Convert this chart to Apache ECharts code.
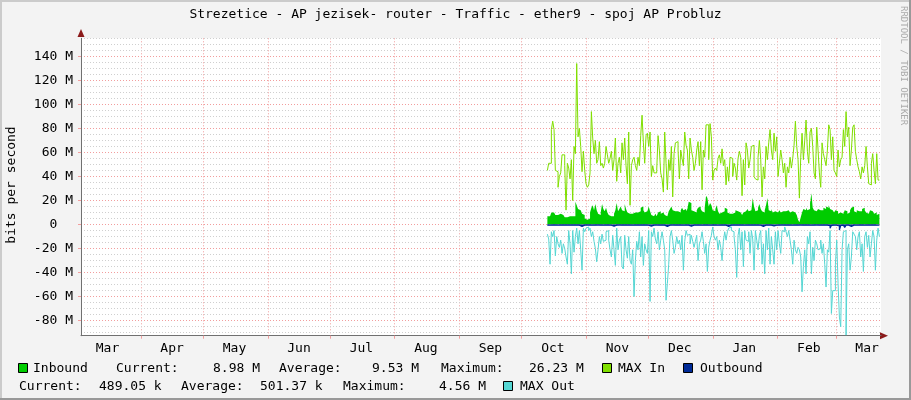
<!DOCTYPE html>
<html><head><meta charset="utf-8">
<script src="https://cdn.jsdelivr.net/npm/echarts@6/dist/echarts.min.js"></script>
<style>html,body{margin:0;padding:0;background:#f3f3f3}#c{width:911px;height:400px}</style>
</head><body><div id="c"></div>
<script>
const titleText = 'Strezetice - AP jezisek- router - Traffic - ether9 - spoj AP Probluz';
const yAxisTitle = 'bits per second';
const watermark = 'RRDTOOL / TOBI OETIKER';
const monthNames = ['Jan','Feb','Mar','Apr','May','Jun','Jul','Aug','Sep','Oct','Nov','Dec'];
// x axis range (UTC)
const axisStart = Date.UTC(2021, 2, 3, 6, 0);
const axisEnd = Date.UTC(2022, 2, 22, 16, 19);
// major grid at month starts, labels centred half a month later (rrdtool style)
const gridMonths = [[2021,3],[2021,4],[2021,5],[2021,6],[2021,7],[2021,8],[2021,9],[2021,10],[2021,11],[2022,0],[2022,1],[2022,2]];
const labelMonths = [[2021,2],[2021,3],[2021,4],[2021,5],[2021,6],[2021,7],[2021,8],[2021,9],[2021,10],[2021,11],[2022,0],[2022,1],[2022,2]];
const labelOffsetMs = 15 * 86400000;
// y axis (M bits/s)
const yMin = -92.5, yMax = 155;
const yMajorTicks = [-80,-60,-40,-20,0,20,40,60,80,100,120,140];
const yMinorStep = 5;
// samples
const sampleStart = Date.UTC(2021, 9, 13, 8, 38);
const sampleStepMs = 55362000;

const maxIn = [
45,51,51,79,86,79,45,44,31,40, 43,58,58,49,12,51,47,38,54,20,
65,59,134,73,80,65,44,61,45,34, 31,33,43,94,72,59,70,51,54,69,
49,51,47,51,65,58,51,55,61,45, 54,72,36,51,56,43,68,54,72,49,
34,77,16,49,54,56,49,45,56,49, 74,91,68,51,74,76,65,77,40,49,
43,43,45,74,62,43,38,27,77,51, 29,54,45,65,23,59,68,69,62,38,
62,55,49,77,66,62,38,72,62,56, 45,51,62,69,49,69,29,62,56,83,
83,54,84,73,37,45,47,
45,55,58,51,63,49,54,33,48,36, 56,55,40,51,47,37,55,61,56,24,
54,33,68,62,47,54,65,66,40,38, 37,56,70,54,23,48,38,65,54,68,
79,62,54,76,61,73,40,51,62,54, 43,51,31,48,43,56,47,55,66,86,
65,54,22,56,76,54,70,87,61,51, 77,80,65,43,38,81,62,43,31,68,
59,54,49,62,83,79,54,73,45,43, 40,62,48,54,56,79,65,94,73,81,
49,62,81,83,61,54,48,44,38,48, 43,49,65,48,34,33,51,59,45,34,
59,37,37];

const inbound = [
7,7,8,10,10,9,8,8,8,9, 8,8,7,6,6,7,7,6,7,6,
7,19,16,13,12,11,9,8,5,4, 4,5,10,14,16,12,17,12,9,8,
10,17,13,11,14,10,8,7,8,7, 9,12,18,11,13,15,12,11,17,13,
10,9,8,9,10,10,11,10,9,11, 14,15,12,10,11,12,15,11,8,7,
8,9,7,10,11,9,10,9,8,7, 8,11,13,15,12,11,12,11,12,10,
12,14,12,13,11,13,19,18,12,11, 12,10,12,14,15,13,11,10,14,24,
22,15,18,16,12,11,13,
16,11,9,10,10,11,14,13,10,9, 8,9,8,10,12,11,12,10,9,8,
10,11,12,13,11,12,13,22,15,11, 12,14,17,13,11,10,12,16,22,12,
11,13,10,11,12,10,11,12,10,11, 10,11,10,12,11,10,11,12,10,9,
8,4,2,6,10,13,12,14,12,13, 18,26,14,12,11,10,13,12,11,12,
14,13,15,14,16,13,12,11,10,12, 11,9,10,11,9,10,12,11,9,10,
12,14,15,11,10,12,11,10,11,13, 14,12,10,9,10,12,11,10,9,10,
8,9,9];

const maxOut = [
-8,-12,-33,-6,-10,-5,-26,-10,-16,-19, -13,-24,-16,-20,-27,-33,-5,-16,-41,-5,
-23,-10,-3,-16,-5,-21,-38,-3,-6,-3, -2,-5,-3,-10,-6,-14,-20,-31,-21,-10,
-16,-8,-14,-13,-6,-5,-13,-21,-27,-9, -21,-34,-3,-21,-13,-10,-35,-37,-9,-21,
-28,-10,-30,-33,-21,-60,-30,-14,-21,-6, -27,-10,-34,-16,-21,-24,-5,-64,-6,-10,
-3,-12,-16,-6,-21,-13,-6,-13,-21,-63, -49,-33,-10,-5,-13,-24,-19,-10,-16,-13,
-21,-9,-38,-14,-5,-9,-8,-16,-9,-14, -19,-14,-9,-30,-16,-13,-6,-14,-24,-16,
-39,-19,-13,-9,-2,-10,-13,
-10,-21,-13,-19,-30,-14,-6,-13,-6,-3, -2,-5,-6,-10,-21,-44,-9,-3,-21,-6,
-35,-5,-13,-14,-6,-24,-5,-12,-38,-5, -13,-21,-9,-5,-33,-16,-41,-5,-21,-3,
-33,-10,-21,-33,-6,-21,-5,-16,-24,-5, -6,-2,-6,-10,-5,-13,-21,-33,-13,-21,
-24,-19,-21,-27,-56,-35,-21,-41,-10,-16, -6,-41,-19,-30,-13,-16,-21,-20,-13,-24,
-16,-33,-52,-21,-23,-5,-74,-55,-55,-33, -13,-49,-77,-85,-21,-6,-5,-92,-21,-16,
-38,-27,-6,-8,-10,-21,-10,-6,-27,-16, -39,-10,-6,-19,-9,-27,-16,-5,-10,-38,
-13,-3,-10];

const outbound = [
-0.5,-0.6,-0.5,-0.5,-0.4,-0.5,-0.5,-0.6,-0.5,-0.5, -0.5,-0.5,-0.4,-0.5,-0.5,-0.5,-0.6,-0.5,-0.5,-0.5,
-0.5,-0.5,-0.6,-0.5,-0.5,-1.5,-0.6,-0.5,-0.5,-0.4, -0.5,-0.5,-0.5,-0.6,-0.5,-0.5,-0.5,-0.4,-0.5,-0.5,
-0.5,-0.6,-0.5,-0.5,-0.5,-0.5,-0.5,-0.6,-0.5,-1.4, -0.5,-0.5,-0.5,-0.4,-0.5,-0.5,-0.6,-0.5,-0.5,-0.5,
-0.5,-0.5,-0.5,-0.6,-0.5,-0.5,-0.4,-0.5,-0.5,-0.5, -0.6,-0.5,-0.5,-0.5,-0.5,-0.6,-0.5,-1.3,-0.5,-0.5,
-0.5,-0.4,-0.5,-0.5,-0.6,-0.5,-0.5,-0.5,-0.6,-1.6, -0.5,-0.5,-0.5,-0.4,-0.5,-0.5,-0.6,-0.5,-0.5,-0.5,
-0.5,-0.6,-0.5,-0.5,-0.5,-0.5,-0.6,-1.4,-0.5,-0.5, -0.5,-0.5,-0.4,-0.5,-0.5,-0.6,-0.5,-0.5,-0.5,-0.5,
-1.5,-0.6,-0.5,-0.5,-0.5,-0.5,-0.5,-0.6,-0.5,-0.5, -0.5,-0.5,-0.4,-0.5,-0.6,-1.5,-0.5,-0.5,-0.5,-0.5,
-0.6,-0.5,-0.5,-0.5,-0.4,-0.5,-0.5,-0.6,-0.5,-0.5, -0.5,-0.5,-0.6,-0.5,-0.5,-0.5,-0.4,-0.5,-0.5,-0.6,
-0.5,-1.5,-0.5,-0.5,-0.6,-0.5,-0.5,-0.5,-0.5,-1.2, -0.5,-0.6,-0.5,-0.5,-0.5,-0.4,-0.5,-0.5,-0.6,-0.5,
-0.5,-0.5,-0.5,-0.6,-0.5,-0.5,-1.5,-0.5,-0.5,-0.4, -0.5,-0.5,-0.6,-0.5,-0.5,-0.5,-0.5,-0.6,-0.5,-0.5,
-0.5,-0.4,-0.5,-0.5,-0.6,-0.5,-1.5,-0.5,-0.5,-0.5, -0.6,-0.9,-3.0,-0.7,-0.5,-0.5,-0.6,-0.5,-1.2,-4.56,
-0.8,-0.5,-0.6,-2.5,-0.5,-0.5,-0.5,-1.5,-0.5,-0.5, -0.5,-0.6,-0.5,-0.5,-0.4,-0.5,-0.5,-0.6,-0.5,-0.5,
-0.5,-0.5,-0.6,-0.5,-0.5,-0.5,-0.4,-0.5,-0.5,-0.49];

// legend (text from the graph's GPRINT lines)
const legendNames = ['Inbound','MAX In','Outbound','MAX Out'];
const legendColors = ['#00CC00','#80DF00','#002A97','#55D6D3'];
const inStats = ['Current:','8.98 M','Average:','9.53 M','Maximum:','26.23 M'];
const outStats = ['Current:','489.05 k','Average:','501.37 k','Maximum:','4.56 M'];

const FONT = 'DejaVu Sans Mono';
const toSeries = arr => arr.map((v, i) => [sampleStart + i * sampleStepMs, v]);
const gridTicks = gridMonths.map(([y, m]) => Date.UTC(y, m, 1));
const labelTicks = labelMonths.map(([y, m]) => Date.UTC(y, m, 1) + labelOffsetMs);
const yMinorTicks = [];
for (let v = -90; v <= yMax; v += yMinorStep) if (v % 20 !== 0) yMinorTicks.push(v);

const txt = (x, y, s, extra) => ({type:'text', x, y, silent:true,
  style: Object.assign({text:s, font:'13px ' + FONT, fill:'#000', align:'left', verticalAlign:'middle'}, extra || {})});
const box = (x, y, c) => ({type:'rect', silent:true, shape:{x:x+0.5, y:y+0.5, width:9, height:9}, style:{fill:c, stroke:'#000', lineWidth:1}});

const graphics = [
  {type:'rect', shape:{x:0,y:0,width:911,height:2}, style:{fill:'#cbcbcb'}, silent:true},
  {type:'rect', shape:{x:0,y:0,width:2,height:400}, style:{fill:'#cbcbcb'}, silent:true},
  {type:'rect', shape:{x:909,y:0,width:2,height:400}, style:{fill:'#999'}, silent:true},
  {type:'rect', shape:{x:0,y:398,width:911,height:2}, style:{fill:'#999'}, silent:true},
  txt(455.5, 15, titleText, {align:'center'}),
  {type:'text', x:12, y:185, rotation:Math.PI/2, silent:true,
   style:{text:yAxisTitle, font:'13px ' + FONT, fill:'#000', align:'center', verticalAlign:'middle'}},
  {type:'text', x:903.5, y:6, rotation:-Math.PI/2, silent:true,
   style:{text:watermark, font:'9px ' + FONT, fill:'#aaa', align:'left', verticalAlign:'middle'}},
  {type:'polygon', silent:true, shape:{points:[[81,29],[77.5,37],[84.5,37]]}, style:{fill:'#8b1a1a'}},
  {type:'polygon', silent:true, shape:{points:[[888,335.7],[880,332.2],[880,339.2]]}, style:{fill:'#8b1a1a'}},
  // legend row 1
  box(18, 363, legendColors[0]), txt(33, 368.5, legendNames[0]),
  txt(116, 368.5, inStats[0]), txt(213, 368.5, inStats[1]),
  txt(279, 368.5, inStats[2]), txt(372, 368.5, inStats[3]),
  txt(441, 368.5, inStats[4]), txt(529, 368.5, inStats[5]),
  box(602, 363, legendColors[1]), txt(618, 368.5, legendNames[1]),
  box(683, 363, legendColors[2]), txt(700, 368.5, legendNames[2]),
  // legend row 2
  txt(19, 386.5, outStats[0]), txt(99, 386.5, outStats[1]),
  txt(181, 386.5, outStats[2]), txt(260, 386.5, outStats[3]),
  txt(343, 386.5, outStats[4]), txt(439, 386.5, outStats[5]),
  box(503, 381, legendColors[3]), txt(520, 386.5, legendNames[3])
];

const chart = echarts.init(document.getElementById('c'), null, {renderer:'canvas'});
chart.setOption({
  animation:false,
  backgroundColor:'#f3f3f3',
  grid:{left:81, right:30, top:38.3, bottom:64.3, show:true, backgroundColor:'#ffffff', borderWidth:0},
  xAxis:{
    type:'value', min:axisStart, max:axisEnd, scale:true,
    axisLine:{show:true, onZero:false, lineStyle:{color:'#707070', width:1}},
    axisTick:{show:true, length:3, customValues:gridTicks, lineStyle:{color:'#f29d9d'}},
    axisLabel:{show:true, customValues:labelTicks, margin:6, color:'#000', fontFamily:FONT, fontSize:13,
      formatter: v => monthNames[new Date(v).getUTCMonth()]},
    splitLine:{show:true, lineStyle:{color:'#f29d9d', type:[1,2], width:1}}
  },
  yAxis:[{
    type:'value', min:yMin, max:yMax,
    axisLine:{show:true, lineStyle:{color:'#707070', width:1}},
    axisTick:{show:true, length:3, customValues:yMajorTicks, lineStyle:{color:'#f29d9d'}},
    axisLabel:{show:true, customValues:yMajorTicks, margin:8, color:'#000', fontFamily:FONT, fontSize:13,
      formatter: v => v === 0 ? '0  ' : v + ' M'},
    splitLine:{show:true, lineStyle:{color:'#f29d9d', type:[1,2], width:1}},
    z:3
  },{
    type:'value', min:yMin, max:yMax, position:'left',
    axisLine:{show:false}, axisLabel:{show:false},
    axisTick:{show:false, customValues:yMinorTicks},
    splitLine:{show:true, lineStyle:{color:'#cfcfcf', type:[1,2], width:1}},
    z:1
  }],
  series:[
    {name:legendNames[0], type:'line', data:toSeries(inbound), step:'end', symbol:'none',
     lineStyle:{width:0}, itemStyle:{color:legendColors[0]}, areaStyle:{color:legendColors[0], opacity:1}, z:2},
    {name:legendNames[1], type:'line', data:toSeries(maxIn), step:'end', symbol:'none',
     lineStyle:{width:1, color:legendColors[1]}, itemStyle:{color:legendColors[1]}, z:3},
    {name:legendNames[2], type:'line', data:toSeries(outbound), step:'end', symbol:'none',
     lineStyle:{width:1.2, color:legendColors[2]}, itemStyle:{color:legendColors[2]}, areaStyle:{color:legendColors[2], opacity:1}, z:4},
    {name:legendNames[3], type:'line', data:toSeries(maxOut), step:'end', symbol:'none',
     lineStyle:{width:1, color:legendColors[3]}, itemStyle:{color:legendColors[3]}, z:3}
  ],
  graphic: graphics
});
</script></body></html>
